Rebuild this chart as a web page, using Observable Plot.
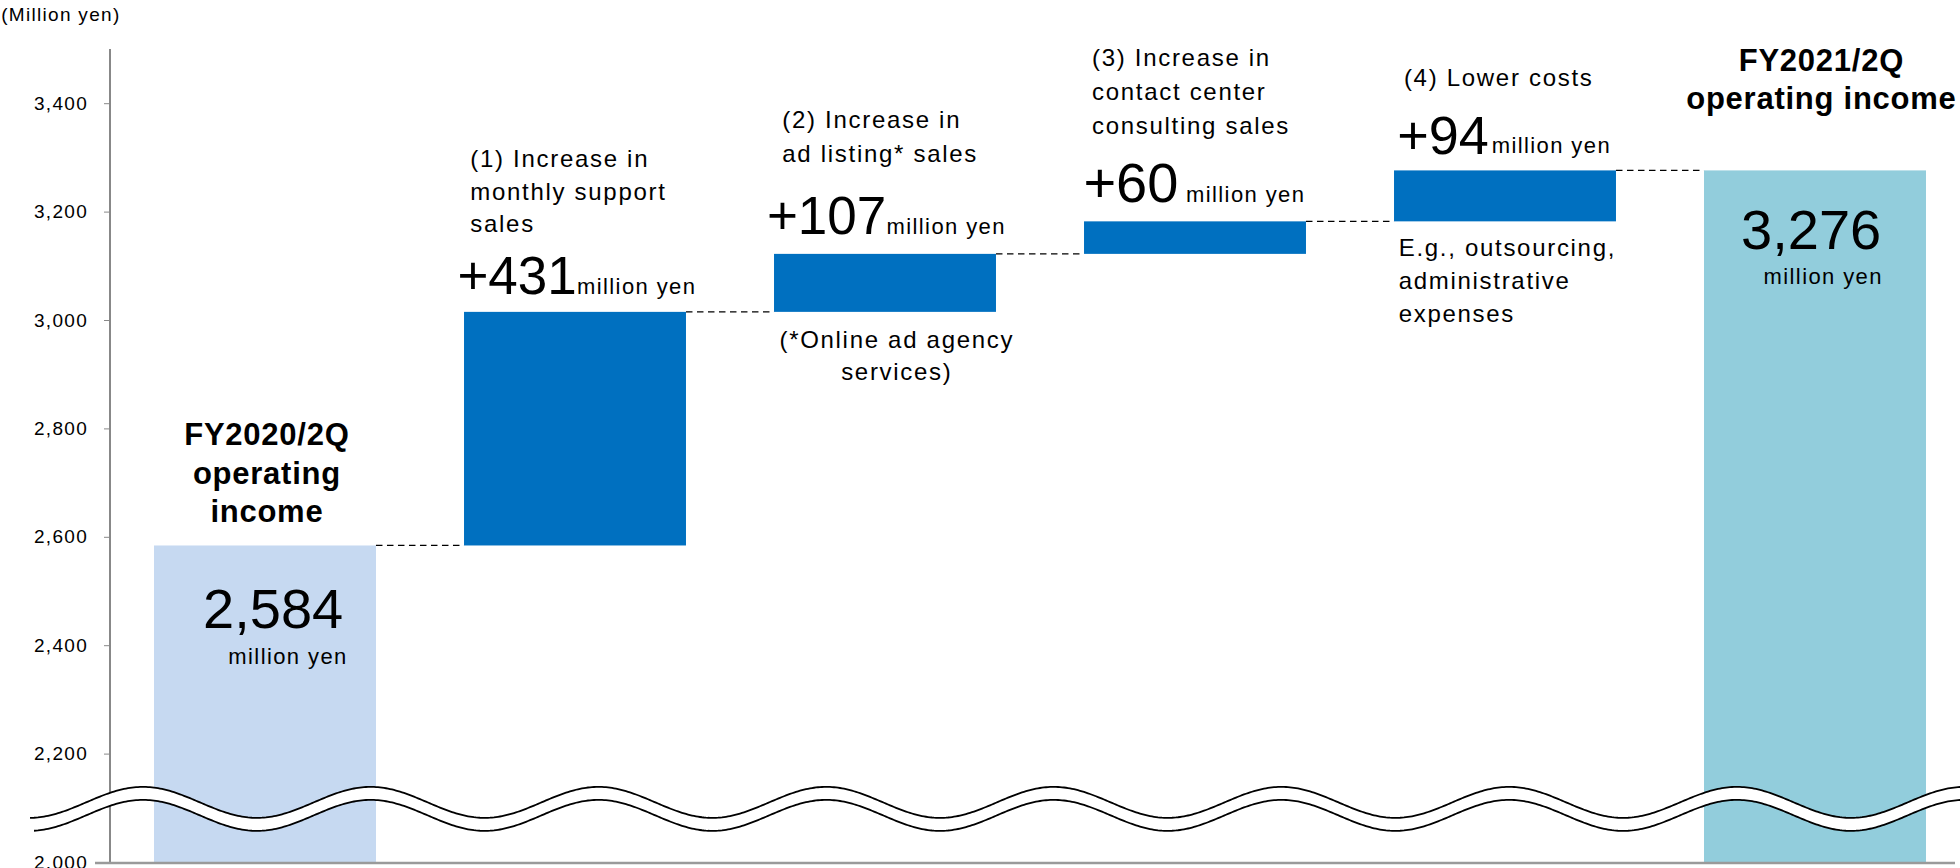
<!DOCTYPE html>
<html><head><meta charset="utf-8">
<script src="https://cdn.jsdelivr.net/npm/d3@7"></script>
<script src="https://cdn.jsdelivr.net/npm/@observablehq/plot@0.6"></script>
<style>
html,body{margin:0;padding:0;background:#fff;overflow:hidden;}
#chart svg{display:block;}
svg text{letter-spacing:1.3px;}
svg g[font-size="24"] text{letter-spacing:1.7px;}
svg g[font-size="22"] text{letter-spacing:1.4px;}
svg g[font-size="53"] text, svg g[font-size="54"] text, svg g[font-size="56"] text{letter-spacing:0;}
svg g[font-size="31"] text{letter-spacing:0.75px;}
</style></head><body><div id="chart"></div>
<script>
// ---- data ----
const categories = ["FY2020/2Q operating income", "(1) Monthly support", "(2) Ad listing", "(3) Contact center consulting", "(4) Lower costs", "FY2021/2Q operating income"];
const startTotal = 2584;
const increments = [431, 107, 60, 94];
const endTotal = 3276;
const axisFloor = 2000;
const axisTop = 3500;
const yTicks = [2000, 2200, 2400, 2600, 2800, 3000, 3200, 3400];
const totalTitles = ["FY2020/2Q\noperating\nincome", "FY2021/2Q\noperating income"];
const stepHeadings = ["(1) Increase in\nmonthly support\nsales", "(2) Increase in\nad listing* sales", "(3) Increase in\ncontact center\nconsulting sales", "(4) Lower costs"];
const stepNotes = ["", "(*Online ad agency\nservices)", "", "E.g., outsourcing,\nadministrative\nexpenses"];
const unitText = "million yen";
const unitAxisLabel = "(Million yen)";

// ---- derived table ----
const bars = [{cat: categories[0], lo: axisFloor, hi: startTotal, kind: "start"}];
let level = startTotal;
increments.forEach((d, i) => { bars.push({cat: categories[i + 1], lo: level, hi: level + d, kind: "step", delta: d}); level += d; });
bars.push({cat: categories[5], lo: axisFloor, hi: endTotal, kind: "end"});

const fillOf = {start: "#C6D9F1", step: "#0070C0", end: "#92CDDC"};
const fmt = d3.format(",");
const FONT = "'Liberation Sans', Arial, Helvetica, sans-serif";

function txt(bar, text, yKey, o) {
  return Plot.text([{cat: bar.cat, v: bar[yKey], t: text}], {x: "cat", y: "v", text: "t", lineAnchor: "bottom", fill: "#000", ...o});
}

function connectors(index, {x, y}) {
  const g = d3.create("svg:g").attr("fill", "none").attr("stroke", "#000")
    .attr("stroke-width", 1.3).attr("stroke-dasharray", "6.5,4.5");
  const bw = x.bandwidth();
  for (let i = 0; i < bars.length - 1; i++) {
    const yy = y(bars[i].hi);
    g.append("line").attr("x1", x(bars[i].cat) + bw).attr("x2", x(bars[i + 1].cat)).attr("y1", yy).attr("y2", yy);
  }
  return g.node();
}

function axisLines(index, {y}, values, dims) {
  const g = d3.create("svg:g");
  g.append("line").attr("x1", dims.marginLeft).attr("x2", dims.marginLeft)
    .attr("y1", y(axisTop)).attr("y2", y(axisFloor)).attr("stroke", "#888").attr("stroke-width", 2);
  g.append("line").attr("x1", dims.marginLeft - 15).attr("x2", dims.width - dims.marginRight)
    .attr("y1", y(axisFloor) + 1).attr("y2", y(axisFloor) + 1).attr("stroke", "#9a9a9a").attr("stroke-width", 2.5);
  return g.node();
}

function axisBreak(index, {y}, values, dims) {
  const g = d3.create("svg:g");
  const mid = y(2110), A = 15.5, P = 227.7, x0 = 143, T = 13;
  const curve = (xStart, off) => d3.range(xStart, dims.width + 3, 2).map(px => [px, mid + off - A * Math.cos(2 * Math.PI * (px - x0) / P)]);
  const top = curve(30, 0), bot = curve(34, T);
  const line = d3.line();
  g.append("path").attr("d", line(top.concat(bot.slice().reverse())) + "Z").attr("fill", "#fff").attr("stroke", "none");
  g.append("path").attr("d", line(top)).attr("fill", "none").attr("stroke", "#000").attr("stroke-width", 1.8);
  g.append("path").attr("d", line(bot)).attr("fill", "none").attr("stroke", "#000").attr("stroke-width", 1.8);
  return g.node();
}

const s = bars.slice(1, 5);
const headingOpts = [
  {dx: -105.2, dy: -80.2, lineHeight: 1.354},
  {dx: -103.2, dy: -92.8, lineHeight: 1.40},
  {dx: -103.5, dy: -88.1, lineHeight: 1.41},
  {dx: -101.6, dy: -84.7, lineHeight: 1.40}
];
const numberOpts = [
  {dx: -118.1, dy: -18.6, fontSize: 53}, {dx: -118.6, dy: -20.6, fontSize: 53},
  {dx: -112.1, dy: -19.7, fontSize: 56}, {dx: -108.3, dy: -17.1, fontSize: 54}
];
const unitOpts = [
  {dx: 1.5, dy: -18.6}, {dx: 1.0, dy: -20.6}, {dx: -9.5, dy: -19.7}, {dx: -13.8, dy: -17.6}
];

const textMarks = [];
s.forEach((b, i) => {
  textMarks.push(txt(b, stepHeadings[i], "hi", {textAnchor: "start", fontSize: 24, ...headingOpts[i]}));
  textMarks.push(txt(b, "+" + fmt(increments[i]), "hi", {textAnchor: "start", ...numberOpts[i]}));
  textMarks.push(txt(b, unitText, "hi", {textAnchor: "start", fontSize: 22, ...unitOpts[i]}));
});
textMarks.push(txt(s[1], stepNotes[1], "lo", {textAnchor: "middle", fontSize: 24, dx: 11.3, dy: 68.1, lineHeight: 1.354}));
textMarks.push(txt(s[3], stepNotes[3], "lo", {textAnchor: "start", fontSize: 24, dx: -106.8, dy: 100.3, lineHeight: 1.375}));

const b0 = bars[0], b5 = bars[5];
textMarks.push(txt(b0, totalTitles[0], "hi", {textAnchor: "middle", fontSize: 31, fontWeight: "bold", dx: 1.4, dy: -23.5, lineHeight: 1.242}));
textMarks.push(txt(b5, totalTitles[1], "hi", {textAnchor: "middle", fontSize: 31, fontWeight: "bold", dx: 5.9, dy: -62.1, lineHeight: 1.213}));
textMarks.push(txt(b0, fmt(startTotal), "hi", {textAnchor: "end", fontSize: 56, dx: 77.7, dy: 82.5}));
textMarks.push(txt(b0, unitText, "hi", {textAnchor: "end", fontSize: 22, dx: 82.2, dy: 117.8}));
textMarks.push(txt(b5, fmt(endTotal), "hi", {textAnchor: "end", fontSize: 56, dx: 65.7, dy: 77.9}));
textMarks.push(txt(b5, unitText, "hi", {textAnchor: "end", fontSize: 22, dx: 67.4, dy: 112.9}));
textMarks.push(Plot.text([unitAxisLabel], {frameAnchor: "top-left", text: d => d, textAnchor: "start", lineAnchor: "bottom", fontSize: 19, fill: "#000", dx: -109.3, dy: -28.3}));

const chart = Plot.plot({
  width: 1960,
  height: 868,
  marginLeft: 110,
  marginRight: 5,
  marginTop: 49,
  marginBottom: 6,
  style: {fontFamily: FONT, fontSize: "19px", color: "#000", background: "#fff"},
  x: {domain: categories, range: [110, 1970], paddingInner: 0.284, paddingOuter: 0.142, align: 0.5, round: false, axis: null},
  y: {domain: [axisFloor, axisTop], ticks: yTicks, tickFormat: d => fmt(d), tickSize: 6, tickPadding: 16.5, label: null},
  marks: [
    Plot.barY(bars, {x: "cat", y1: "lo", y2: "hi", fill: d => fillOf[d.kind]}),
    connectors,
    axisLines,
    axisBreak,
    ...textMarks
  ]
});
// tick marks in grey, like the reference axis
d3.select(chart).selectAll('g[aria-label="y-axis tick"]').attr("stroke", "#888");
document.getElementById("chart").appendChild(chart);
</script>
</body></html>
